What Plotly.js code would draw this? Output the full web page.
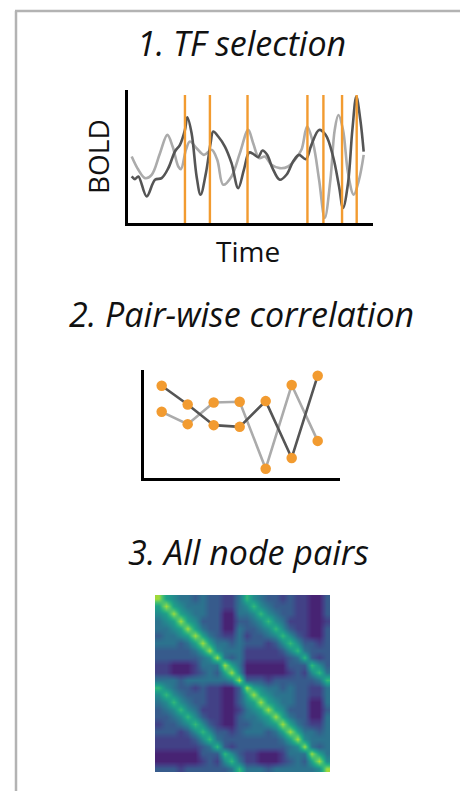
<!DOCTYPE html>
<html>
<head>
<meta charset="utf-8">
<script src="https://cdn.plot.ly/plotly-3.0.1.min.js"></script>
<style>html,body{margin:0;padding:0;background:#fff;}#chart{width:460px;height:791px;}</style>
</head>
<body>
<div id="chart"></div>
<script>
// ---- Panel 1: BOLD time series (arbitrary units) ----
const darkT = [155,165,175,200,225,245,265,285,300,315,322,335,350,362,378,392,400,415,435,455,475,492,508,520,535,548,562,578,600,620,640,658,678,695,718,738,760,778,790,805,818,830,842,852];
const darkBold = [140,132,140,80,130,135,165,215,235,280,318,270,140,85,150,240,275,260,230,180,105,160,212,208,198,218,205,165,130,145,185,205,192,235,280,265,200,110,45,120,280,380,310,215];
const lightT = [155,175,195,215,240,262,278,295,303,318,330,350,372,395,412,430,455,480,505,520,538,555,575,600,625,645,665,682,700,718,735,752,765,776,790,805,822,838,852];
const lightBold = [200,160,135,145,210,265,230,170,162,220,245,225,205,220,190,115,140,210,280,240,195,200,175,165,170,190,220,290,240,130,15,130,280,325,280,150,85,130,205];
const selectedFrames = [315,390,503,683,731,787,831];
const frameTop = 385;

// ---- Panel 2: pair-wise correlation points ----
const pairIdx = [1,2,3,4,5,6,7];
const darkPair = [92,73.3,52.7,51,76.7,20,102];
const lightPair = [66,53.7,75.3,76,9.3,92.7,37];

// ---- Panel 3: node-pair matrix (digits 0-9 per cell) ----
const matrixRows = [
  "965443433224754332322113",
  "696544433224575433322113",
  "569654433114457543322113",
  "456965333113345754222112",
  "445696433114334575322113",
  "344569643224233457532113",
  "444346964434333235753323",
  "333334695444222223574333",
  "333333459434222222347323",
  "221112444964111111333753",
  "221112343695111111232574",
  "444344444459333233333347",
  "754332322113965443433224",
  "575433322113696544433224",
  "457543322113569654433114",
  "345754222112456965333113",
  "334575322113445696433114",
  "233457532113344569643224",
  "333235753323444346964434",
  "222223574333333334695444",
  "222222347323333333459434",
  "111111333753221112444964",
  "111111232574221112343695",
  "333233333347444344444459"
];

const titles = ["1. TF selection", "2. Pair-wise correlation", "3. All node pairs"];
const yLabel = "BOLD";
const xLabel = "Time";

// ---- build ----
const W = 460, H = 791;
const px = v => v / W;
const py = v => 1 - v / H;

const orange = "#f29b30";
const darkGray = "#555555";
const lightGray = "#ababab";
const FONT = "Open Sans";

const fx = [], fy = [];
selectedFrames.forEach(f => { fx.push(f, f, null); fy.push(0, frameTop, null); });

const z = matrixRows.map(r => r.split("").map(Number));

const traces = [
  {x: lightT, y: lightBold, xaxis: "x", yaxis: "y", mode: "lines", line: {color: lightGray, width: 2.6, shape: "spline", smoothing: 1}, hoverinfo: "skip"},
  {x: darkT, y: darkBold, xaxis: "x", yaxis: "y", mode: "lines", line: {color: darkGray, width: 2.6, shape: "spline", smoothing: 1}, hoverinfo: "skip"},
  {x: fx, y: fy, xaxis: "x", yaxis: "y", mode: "lines", line: {color: orange, width: 2.4}, hoverinfo: "skip"},
  {x: pairIdx, y: lightPair, xaxis: "x2", yaxis: "y2", mode: "lines", line: {color: lightGray, width: 2.6}, hoverinfo: "skip"},
  {x: pairIdx, y: darkPair, xaxis: "x2", yaxis: "y2", mode: "lines", line: {color: darkGray, width: 2.6}, hoverinfo: "skip"},
  {x: pairIdx.concat(pairIdx), y: lightPair.concat(darkPair), xaxis: "x2", yaxis: "y2", mode: "markers", marker: {color: orange, size: 10.5}, cliponaxis: false, hoverinfo: "skip"},
  {z: z, type: "heatmap", xaxis: "x3", yaxis: "y3", colorscale: "Viridis", zmin: 0, zmax: 10.5, zsmooth: "best", showscale: false, hoverinfo: "skip"}
];

const hidden = {showgrid: false, zeroline: false, showticklabels: false, ticks: "", fixedrange: true};
const axLine = {showline: true, linecolor: "#000", linewidth: 3};

const layout = {
  width: W, height: H,
  margin: {l: 0, r: 0, t: 0, b: 0},
  paper_bgcolor: "#fff", plot_bgcolor: "rgba(0,0,0,0)",
  showlegend: false,
  xaxis: Object.assign({}, hidden, axLine, {domain: [px(127.7), px(373)], range: [143, 880], anchor: "y"}),
  yaxis: Object.assign({}, hidden, axLine, {domain: [py(223), py(90)], range: [0, 400], anchor: "x"}),
  xaxis2: Object.assign({}, hidden, axLine, {domain: [px(144.3), px(340)], range: [0.331, 7.858], anchor: "y2"}),
  yaxis2: Object.assign({}, hidden, axLine, {domain: [py(478), py(370)], range: [0, 107.7], anchor: "x2"}),
  xaxis3: Object.assign({}, hidden, {domain: [px(155), px(330)], range: [-0.5, 23.5], anchor: "y3"}),
  yaxis3: Object.assign({}, hidden, {domain: [py(772), py(595)], range: [23.5, -0.5], anchor: "x3"}),
  shapes: [
    {type: "line", xref: "paper", yref: "paper", x0: px(16), x1: px(16), y0: 0, y1: py(11), line: {color: "#b3b3b3", width: 2.5}},
    {type: "line", xref: "paper", yref: "paper", x0: px(15), x1: 1, y0: py(11), y1: py(11), line: {color: "#b3b3b3", width: 2.5}}
  ],
  annotations: [
    {text: titles[0], xref: "paper", yref: "paper", x: px(241), y: py(43), xanchor: "center", yanchor: "middle", showarrow: false, font: {family: FONT, size: 34, color: "#111", style: "italic"}},
    {text: titles[1], xref: "paper", yref: "paper", x: px(242), y: py(314), xanchor: "center", yanchor: "middle", showarrow: false, font: {family: FONT, size: 34, color: "#111", style: "italic"}},
    {text: titles[2], xref: "paper", yref: "paper", x: px(248), y: py(552), xanchor: "center", yanchor: "middle", showarrow: false, font: {family: FONT, size: 34, color: "#111", style: "italic"}},
    {text: yLabel, xref: "paper", yref: "paper", x: px(98), y: py(157), xanchor: "center", yanchor: "middle", textangle: -90, showarrow: false, font: {family: FONT, size: 28, color: "#111"}},
    {text: xLabel, xref: "paper", yref: "paper", x: px(248), y: py(251), xanchor: "center", yanchor: "middle", showarrow: false, font: {family: FONT, size: 28, color: "#111"}}
  ]
};

Plotly.newPlot("chart", traces, layout, {displayModeBar: false, staticPlot: true});
</script>
</body>
</html>
